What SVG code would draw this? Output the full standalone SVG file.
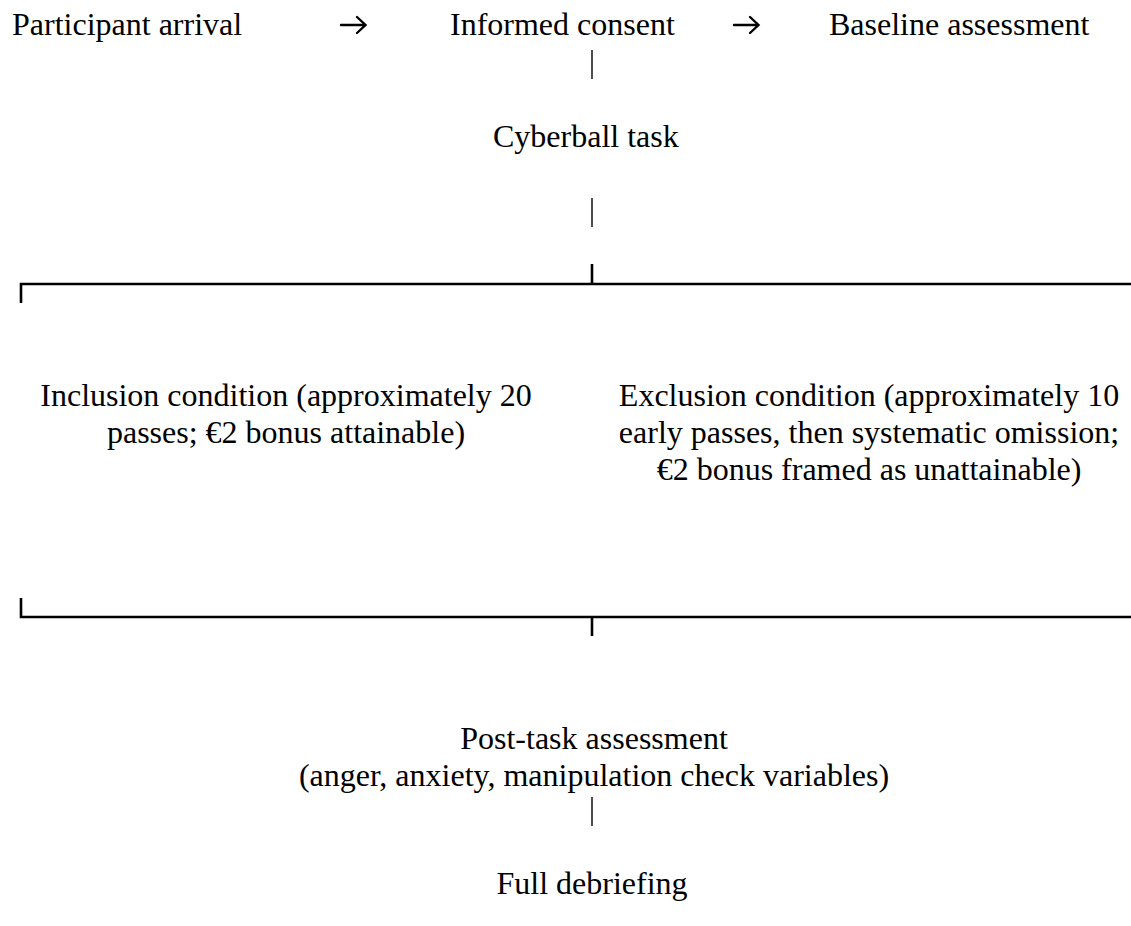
<svg xmlns="http://www.w3.org/2000/svg" width="1131" height="926" viewBox="0 0 1131 926">
<style>
text{font-family:"Liberation Serif","Times New Roman",serif;font-size:32px;fill:#000}
.thin{stroke:#000;stroke-width:1.4;fill:none}
.thick{stroke:#000;stroke-width:2.6;fill:none}
.arr{stroke:#000;stroke-width:2.4;fill:none;stroke-linecap:round;stroke-linejoin:miter}
</style>
<rect width="1131" height="926" fill="#fff"/>
<g id="n-arrival"><text x="12" y="35">Participant arrival</text></g>
<g id="n-consent"><text x="450" y="35">Informed consent</text></g>
<g id="n-baseline"><text x="829" y="35">Baseline assessment</text></g>
<g id="n-cyberball"><text x="493" y="147">Cyberball task</text></g>
<g id="n-inclusion"><text x="286" y="406" text-anchor="middle"><tspan x="286">Inclusion condition (approximately 20</tspan><tspan x="286" dy="36.8">passes; €2 bonus attainable)</tspan></text></g>
<g id="n-exclusion"><text x="869" y="406" text-anchor="middle"><tspan x="869">Exclusion condition (approximately 10</tspan><tspan x="869" dy="36.8">early passes, then systematic omission;</tspan><tspan x="869" dy="36.8">€2 bonus framed as unattainable)</tspan></text></g>
<g id="n-posttask"><text x="594" y="749" text-anchor="middle"><tspan x="594">Post-task assessment</tspan><tspan x="594" dy="36.8">(anger, anxiety, manipulation check variables)</tspan></text></g>
<g id="n-debrief"><text x="592" y="894" text-anchor="middle">Full debriefing</text></g>
<g id="connectors">
<path class="arr" d="M341 25H365M357 17L365.5 25L357 33"/>
<path class="arr" d="M734 25H758M750 17L758.5 25L750 33"/>
<path class="thin" d="M592 50V79"/>
<path class="thin" d="M592 198V227"/>
<path class="thick" d="M592 264V284M21 303V284H1131"/>
<path class="thick" d="M21 598V617H1131M592 617V636"/>
<path class="thin" d="M592 797V826"/>
</g>
</svg>
